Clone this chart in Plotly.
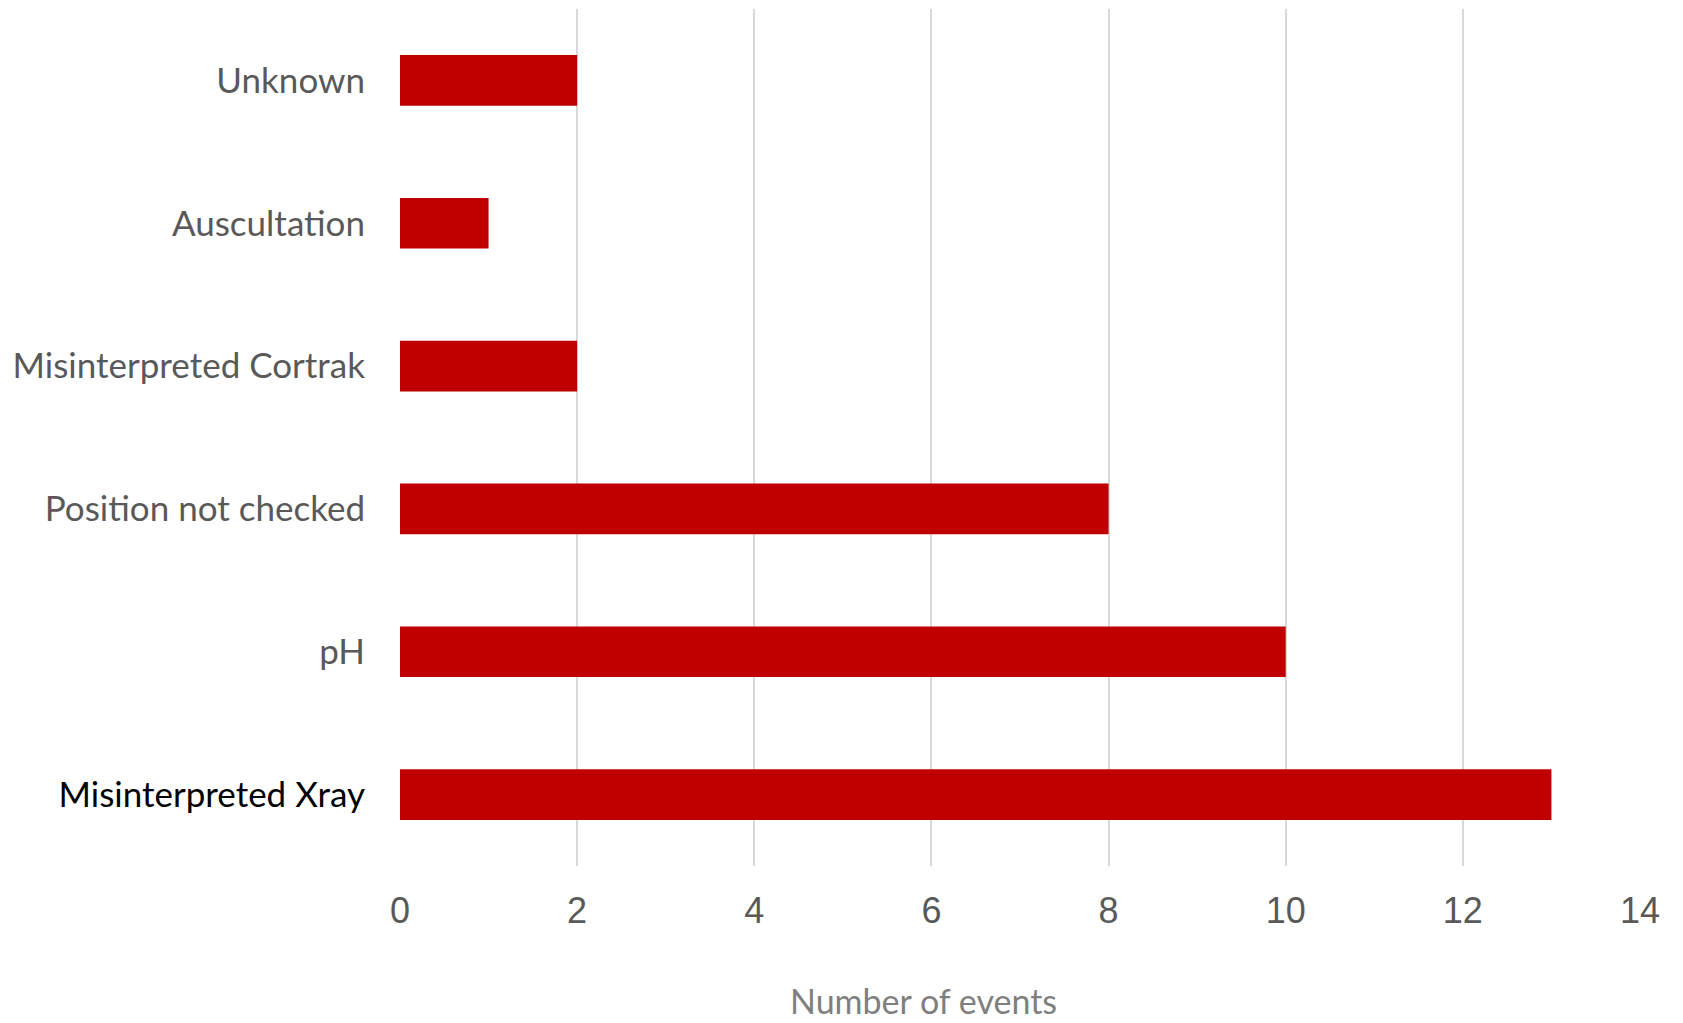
import plotly.graph_objects as go

# Categories listed bottom-to-top as they appear on the y axis
categories = [
    "Misinterpreted Xray",
    "pH",
    "Position not checked",
    "Misinterpreted Cortrak",
    "Auscultation",
    "Unknown",
]
events = [13, 10, 8, 2, 1, 2]
x_ticks = [0, 2, 4, 6, 8, 10, 12, 14]

BAR_RED = "#C00000"
LABEL_GREY = "#595959"

# The first category is highlighted in black, the rest stay grey
tick_text = [
    f'<span style="color:#000000">{c}</span>' if i == 0 else c
    for i, c in enumerate(categories)
]

fig = go.Figure(
    go.Bar(
        x=events,
        y=categories,
        orientation="h",
        marker=dict(color=BAR_RED, line=dict(width=0)),
        hoverinfo="x+y",
    )
)

fig.update_layout(
    width=1683,
    height=1023,
    margin=dict(l=400, r=43, t=9, b=157),
    paper_bgcolor="white",
    plot_bgcolor="white",
    bargap=0.645,
    showlegend=False,
    xaxis=dict(
        range=[0, 14],
        tickvals=x_ticks,
        ticktext=[str(v) for v in x_ticks],
        showgrid=True,
        gridcolor="#D9D9D9",
        gridwidth=2,
        zeroline=False,
        showline=False,
        ticks="",
        ticklabelstandoff=20,
        tickfont=dict(family="Liberation Sans, Arial, sans-serif", size=36, color=LABEL_GREY),
        fixedrange=True,
    ),
    yaxis=dict(
        categoryorder="array",
        categoryarray=categories,
        tickvals=categories,
        ticktext=tick_text,
        showgrid=False,
        zeroline=False,
        showline=False,
        ticks="",
        ticklabelstandoff=34,
        tickfont=dict(family="Lato, sans-serif", size=35, color=LABEL_GREY),
        fixedrange=True,
    ),
    annotations=[
        dict(
            text="Number of events",
            xref="paper",
            yref="paper",
            x=(923 - 400) / 1240,
            y=-(1001 - 866) / 857,
            xanchor="center",
            yanchor="middle",
            showarrow=False,
            font=dict(family="Lato, sans-serif", size=34, color="#7F7F7F"),
        )
    ],
)

fig.write_html("out.html")
